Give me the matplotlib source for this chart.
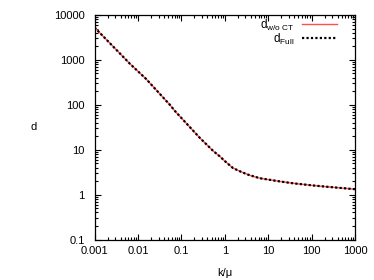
import numpy                as np
import matplotlib
matplotlib.use('Agg')
import matplotlib.pyplot    as plt
from matplotlib.ticker      import LogLocator, NullFormatter, FixedLocator


# values
k_over_mu       = [0.001, 0.00655, 0.0153, 0.0545, 0.071, 0.266, 0.54, 0.77, 1.0, 1.55,
                   2.5, 3.76, 6.4, 10.8, 18.4, 37.0, 107.0, 218.0, 1000.0]
d_full          = [5300., 820., 380., 100., 73., 18.4, 9.4, 7.1, 5.6, 3.9,
                   3.15, 2.7, 2.32, 2.14, 1.97, 1.79, 1.6, 1.5, 1.32]
d_wo_ct         = [5300., 820., 380., 100., 73., 18.4, 9.4, 7.1, 5.6, 3.9,
                   3.15, 2.7, 2.32, 2.14, 1.97, 1.79, 1.6, 1.5, 1.32]

x_ticks         = [0.001, 0.01, 0.1, 1, 10, 100, 1000]
x_labels        = ['0.001', '0.01', '0.1', '1', '10', '100', '1000']
y_ticks         = [0.1, 1, 10, 100, 1000, 10000]
y_labels        = ['0.1', '1', '10', '100', '1000', '10000']


plt.rcParams['font.family']         = ['Liberation Sans', 'DejaVu Sans']
plt.rcParams['mathtext.fontset']    = 'custom'
plt.rcParams['mathtext.rm']         = 'Liberation Sans'
plt.rcParams['mathtext.it']         = 'Liberation Sans'
plt.rcParams['font.size']           = 8


fig                                 = plt.figure(figsize=(3.74, 2.80), dpi=100)
ax                                  = fig.add_axes([0.2527, 0.1446, 0.6964, 0.8018])

ax.plot(k_over_mu, d_wo_ct, color='#ff5050', lw=1.0, label=r'd$_{\rm w/o\ CT}$')
ax.plot(k_over_mu, d_full,  color='black', lw=1.6, linestyle=(0, (1, 1)), label=r'd$_{\rm Full}$')

ax.set_xscale('log')
ax.set_yscale('log')
ax.set_xlim(0.001, 1000)
ax.set_ylim(0.1, 10000)

ax.xaxis.set_major_locator(FixedLocator(x_ticks))
ax.set_xticklabels(x_labels)
ax.yaxis.set_major_locator(FixedLocator(y_ticks))
ax.set_yticklabels(y_labels)
ax.xaxis.set_minor_locator(LogLocator(base=10, subs=np.arange(2, 10), numticks=20))
ax.yaxis.set_minor_locator(LogLocator(base=10, subs=np.arange(2, 10), numticks=20))
ax.xaxis.set_minor_formatter(NullFormatter())
ax.yaxis.set_minor_formatter(NullFormatter())

ax.tick_params(which='both', direction='in', top=True, right=True, width=0.8)
ax.tick_params(which='major', length=4)
ax.tick_params(axis='y', which='major', pad=7)
ax.tick_params(axis='x', which='major', pad=5)
ax.tick_params(which='minor', length=2)
for s in ax.spines.values():
    s.set_linewidth(0.9)

ax.set_xlabel(r'k/μ', labelpad=8)
ax.set_ylabel('d', rotation=0, labelpad=15, va='center')

ax.legend(loc='upper right', frameon=False, markerfirst=False, handlelength=3.0,
          labelspacing=-0.1, borderaxespad=0.0, handletextpad=0.6, fontsize=8.5,
          bbox_to_anchor=(0.95, 1.01))

fig.savefig('out.png', dpi=100)
